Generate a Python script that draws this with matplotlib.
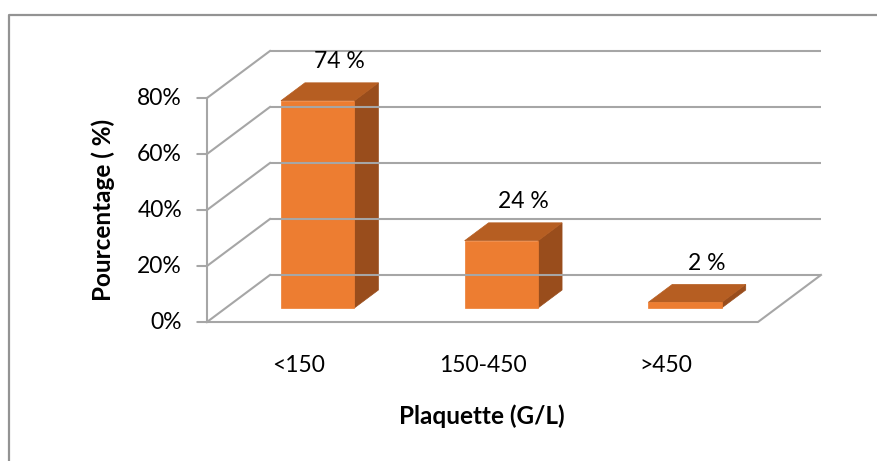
import matplotlib
matplotlib.use("Agg")
import matplotlib.pyplot as plt
from matplotlib.patches import Polygon
from matplotlib.lines import Line2D

plt.rcParams['font.family'] = ['Lato', 'DejaVu Sans']

categories = ['<150', '150-450', '>450']
values = [74, 24, 2]
value_labels = ['74 %', '24 %', '2 %']
yticks = [0, 20, 40, 60, 80]
ytick_labels = ['0%', '20%', '40%', '60%', '80%']

# oblique "3D" depth offset (category units, percent units)
DX, DY = 0.343, 16.8
D0, D1 = 0.30, 0.68   # bar depth range
BW = 0.40             # bar width

def proj(x, y, d):
    return (x + d * DX, y + d * DY)

fig = plt.figure(figsize=(8.77, 4.61), dpi=100)
ax = fig.add_axes([0, 0, 1, 1])
ax.set_xlim(-1.627, 3.148)
ax.set_ylim(-49.64, 115.0)
ax.axis('off')

# outer frame
fig.add_artist(Line2D([9 / 877, 9 / 877, 1.0], [0.0, 1 - 15 / 461, 1 - 15 / 461],
                      transform=fig.transFigure, color='#939393', lw=1.6))

grid_c = '#a6a6a6'
xl, xr = -0.5, len(categories) - 0.5
# back wall gridlines + side wall diagonals
for v in yticks:
    a, b = proj(xl, v, 1), proj(xr, v, 1)
    ax.plot([a[0], b[0]], [a[1], b[1]], color=grid_c, lw=1.5, solid_capstyle='butt')
    c = proj(xl, v, 0)
    ax.plot([c[0], a[0]], [c[1], a[1]], color=grid_c, lw=1.5)
# floor
p1, p2, p3 = proj(xl, 0, 0), proj(xr, 0, 0), proj(xr, 0, 1)
ax.plot([p1[0], p2[0], p3[0]], [p1[1], p2[1], p3[1]], color=grid_c, lw=1.5)
# front axis + ticks
ax.plot([xl, xl], [0, yticks[-1]], color=grid_c, lw=1.5)
for v, lab in zip(yticks, ytick_labels):
    ax.annotate('', xy=(xl, v), xytext=(-7, 0), textcoords='offset points',
                arrowprops=dict(arrowstyle='-', color=grid_c, lw=1.5,
                                shrinkA=0, shrinkB=0))
    ax.annotate(lab, xy=(xl, v), xytext=(-18, 0), textcoords='offset points',
                ha='right', va='center', fontsize=16.5, color='black')

# bars
for i, (v, lab) in enumerate(zip(values, value_labels)):
    x0, x1 = i - BW / 2, i + BW / 2
    front = [proj(x0, 0, D0), proj(x1, 0, D0), proj(x1, v, D0), proj(x0, v, D0)]
    top = [proj(x0, v, D0), proj(x1, v, D0), proj(x1, v, D1), proj(x0, v, D1)]
    side = [proj(x1, 0, D0), proj(x1, 0, D1), proj(x1, v, D1), proj(x1, v, D0)]
    ax.add_patch(Polygon(side, closed=True, facecolor='#994d1c', edgecolor='#994d1c', lw=0.5))
    ax.add_patch(Polygon(top, closed=True, facecolor='#b65e22', edgecolor='#b65e22', lw=0.5))
    ax.add_patch(Polygon(front, closed=True, facecolor='#ed7d31', edgecolor='#ed7d31', lw=0.5))
    ax.annotate(lab, xy=proj(i, v, D1), xytext=(-1.5, 15), textcoords='offset points',
                ha='center', va='center', fontsize=16.5, color='black')

# category labels
for i, c in enumerate(categories):
    ax.annotate(c, xy=(i, 0), xytext=(0, -31.5), textcoords='offset points',
                ha='center', va='center', fontsize=16.5, color='black')

fig.text(482 / 877, 1 - 416 / 461, 'Plaquette (G/L)', ha='center', va='center',
         fontsize=17.5, fontweight='bold')
fig.text(103 / 877, 1 - 210 / 461, 'Pourcentage ( %)', ha='center', va='center',
         fontsize=17.5, fontweight='bold', rotation=90)

fig.savefig('out.png', dpi=100)
